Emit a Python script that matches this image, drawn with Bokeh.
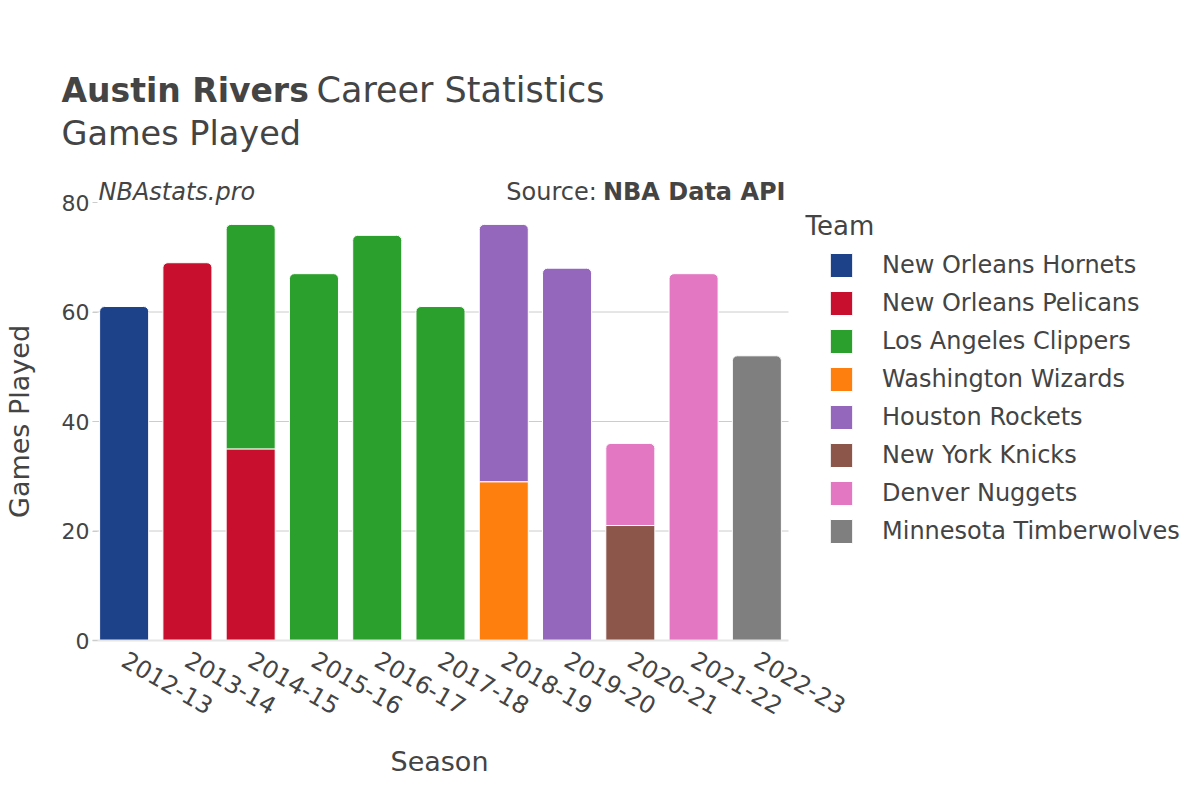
import numpy as np
from bokeh.plotting import figure
from bokeh.models import (Range1d, FixedTicker, Label, Legend, LegendItem,
                          ColumnDataSource)
from bokeh.embed import file_html
from bokeh.resources import INLINE

# ---------------- data ----------------
seasons = ["2012-13", "2013-14", "2014-15", "2015-16", "2016-17", "2017-18",
           "2018-19", "2019-20", "2020-21", "2021-22", "2022-23"]
teams = ["New Orleans Hornets", "New Orleans Pelicans", "Los Angeles Clippers",
         "Washington Wizards", "Houston Rockets", "New York Knicks",
         "Denver Nuggets", "Minnesota Timberwolves"]
colors = ["#1d428a", "#c8102e", "#2ca02c", "#ff7f0e", "#9467bd", "#8c564b",
          "#e377c2", "#7f7f7f"]
hornets = [61, 0, 0, 0, 0, 0, 0, 0, 0, 0, 0]
pelicans = [0, 69, 35, 0, 0, 0, 0, 0, 0, 0, 0]
clippers = [0, 0, 41, 67, 74, 61, 0, 0, 0, 0, 0]
wizards = [0, 0, 0, 0, 0, 0, 29, 0, 0, 0, 0]
rockets = [0, 0, 0, 0, 0, 0, 47, 68, 0, 0, 0]
knicks = [0, 0, 0, 0, 0, 0, 0, 0, 21, 0, 0]
nuggets = [0, 0, 0, 0, 0, 0, 0, 0, 15, 67, 0]
wolves = [0, 0, 0, 0, 0, 0, 0, 0, 0, 0, 52]
games = [hornets, pelicans, clippers, wizards, rockets, knicks, nuggets, wolves]
y_ticks = [0, 20, 40, 60, 80]

FONT = "DejaVu Sans"
TXT = "#444444"

# layout (pixels): plot frame spans x 92..1184, bars occupy 92..788
W, H = 1184, 784
FL, FR_BARS, FT, FB = 92, 788, 200, 640
n = len(seasons)
xpos = [i + 0.5 for i in range(n)]
x_end = n * (W - FL) / (FR_BARS - FL)

p = figure(width=W, height=H, x_range=Range1d(0, x_end), y_range=Range1d(0, 80),
           output_backend="svg", toolbar_location=None,
           min_border_left=FL, min_border_right=0, min_border_top=FT,
           min_border_bottom=H - FB, title=None)
p.outline_line_color = None
p.background_fill_color = "white"
p.border_fill_color = "white"

# ---------------- horizontal grid lines, limited to the bar area ----------------
grid_y = y_ticks[1:-1]
p.segment(x0=[0] * len(grid_y), x1=[n] * len(grid_y), y0=grid_y, y1=grid_y,
          line_color="#cccccc", line_width=1, level="underlay")

# ---------------- stacked bars ----------------
arr = np.array(games, dtype=float)
totals = arr.sum(axis=0)
cum = np.zeros(n)
items = []
for team, color, vals in zip(teams, colors, arr):
    bottom = cum.copy()
    top = cum + vals
    cum = top
    has = vals > 0
    is_top = has & np.isclose(top, totals)
    is_low = has & ~is_top
    rends = []
    for sel, rad in ((is_top, (5, 5, 0, 0)), (is_low, 0)):
        if sel.any():
            idx = np.where(sel)[0]
            src = ColumnDataSource(dict(x=[xpos[j] for j in idx],
                                        bottom=bottom[idx], top=top[idx]))
            r = p.vbar(x="x", bottom="bottom", top="top", width=0.775,
                       source=src, fill_color=color, line_color="white",
                       line_width=1, border_radius=rad)
            rends.append(r)
    items.append(LegendItem(label=team, renderers=[rends[0]]))

# ---------------- axes ----------------
p.xgrid.visible = False
p.ygrid.visible = False
p.yaxis.ticker = FixedTicker(ticks=y_ticks)
p.yaxis.axis_line_color = None
p.yaxis.major_tick_in = 5
p.yaxis.major_tick_out = 0
p.yaxis.major_tick_line_color = "#cccccc"
p.yaxis.minor_tick_line_color = None
p.yaxis.major_label_standoff = 3
p.yaxis.major_label_text_font_size = "22px"
p.yaxis.major_label_text_font = FONT
p.yaxis.major_label_text_color = TXT
p.yaxis.axis_label = "Games Played"
p.yaxis.axis_label_text_font = FONT
p.yaxis.axis_label_text_font_size = "27px"
p.yaxis.axis_label_text_font_style = "normal"
p.yaxis.axis_label_text_color = TXT
p.yaxis.axis_label_standoff = 24

p.xaxis.ticker = FixedTicker(ticks=xpos)
p.xaxis.major_label_overrides = {x: s for x, s in zip(xpos, seasons)}
p.xaxis.bounds = (0, n)
p.xaxis.axis_line_color = "#e6e6e6"
p.xaxis.axis_line_width = 2
p.xaxis.major_tick_line_color = None
p.xaxis.minor_tick_line_color = None
p.xaxis.major_tick_in = 0
p.xaxis.major_tick_out = 0
p.xaxis.major_label_orientation = -np.pi / 6
p.xaxis.major_label_standoff = 17
p.xaxis.major_label_text_font_size = "24px"
p.xaxis.major_label_text_font = FONT
p.xaxis.major_label_text_color = TXT

# ---------------- legend (inside the wide frame, right of the bars) ----------------
legend = Legend(items=items, location=(735, 94), orientation="vertical",
                label_text_font_size="24px", label_text_font=FONT,
                label_text_color=TXT, glyph_width=28, glyph_height=30,
                label_height=30, label_standoff=27, spacing=8, padding=0,
                margin=0, border_line_color=None, background_fill_alpha=0)
p.add_layout(legend)


def lab(text, x, y, size, style="normal", align="left"):
    return Label(x=x, y=y, x_units="screen", y_units="screen", text=text,
                 text_font=FONT, text_font_size=size, text_font_style=style,
                 text_color=TXT, text_align=align, text_baseline="alphabetic")


p.add_layout(lab("Team", 713, 415, "26px"))

# header texts, stacked in the "above" panel (first = nearest to the frame)
p.add_layout(lab("NBAstats.pro", 6, 11, "24px", "italic"), "above")
p.add_layout(lab("Source: ", 512, -17, "24px", align="right"), "above")
p.add_layout(lab("NBA Data API", 693, -45, "24px", "bold", align="right"), "above")
p.add_layout(lab("Games Played", -31, -15, "33.5px"), "above")
p.add_layout(lab("Career Statistics", 224, -10, "35px"), "above")
p.add_layout(lab("Austin Rivers", -31, -51, "33px", "bold"), "above")

# x axis title, in the "below" panel under the axis
p.add_layout(lab("Season", 347, -4, "27px", align="center"), "below")

open("out.html", "w").write(file_html(p, INLINE))
